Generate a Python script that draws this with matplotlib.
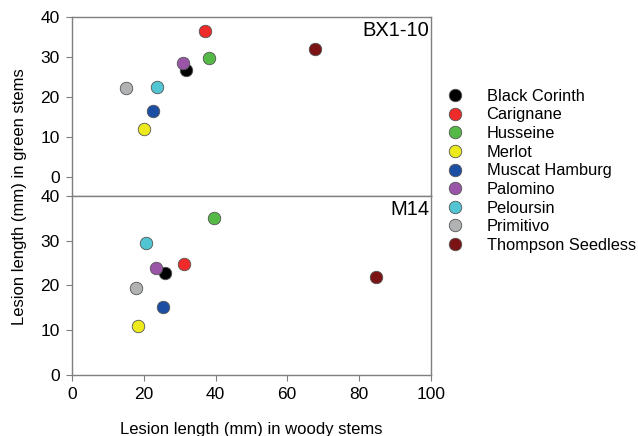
import matplotlib.pyplot as plt

plt.rcParams['font.family'] = ['Liberation Sans', 'DejaVu Sans']

cultivars = ['Black Corinth', 'Carignane', 'Husseine', 'Merlot', 'Muscat Hamburg',
             'Palomino', 'Peloursin', 'Primitivo', 'Thompson Seedless']
colors = ['#000000', '#ee2a2a', '#55b947', '#ecea1c', '#1c4fa3',
          '#9a55a8', '#52c5d3', '#b0b2b3', '#7b1315']

# BX1-10
bx_woody = [31.7, 37.1, 38.3, 20.0, 22.7, 31.0, 23.6, 15.0, 67.8]
bx_green = [26.6, 36.3, 29.6, 12.0, 16.4, 28.5, 22.4, 22.1, 31.8]
# M14
m14_woody = [26.0, 31.1, 39.5, 18.3, 25.3, 23.4, 20.7, 17.8, 84.7]
m14_green = [22.7, 24.7, 35.1, 10.9, 15.3, 23.9, 29.4, 19.4, 22.0]

fig = plt.figure(figsize=(6.38, 4.36), dpi=100)
ax1 = fig.add_axes([0.113, 0.5505, 0.562, 0.4115])
ax2 = fig.add_axes([0.113, 0.140, 0.562, 0.4105])

grey = '#7f7f7f'
for ax, xs, ys, label in [(ax1, bx_woody, bx_green, 'BX1-10'),
                          (ax2, m14_woody, m14_green, 'M14')]:
    for i in range(len(cultivars)):
        ax.plot(xs[i], ys[i], 'o', color=colors[i], markersize=9,
                markeredgecolor='#555555', markeredgewidth=0.6, label=cultivars[i])
    ax.set_xlim(0, 100)
    ax.set_yticks([0, 10, 20, 30, 40])
    for s in ax.spines.values():
        s.set_color(grey)
        s.set_linewidth(1.0)
    ax.tick_params(direction='out', color=grey, labelsize=12.5, length=4, pad=5)
    ax.text(0.997, 0.975, label, transform=ax.transAxes, ha='right', va='top', fontsize=14.5)

ax1.set_ylim(-4.7, 40)
ax1.set_xticks([])
ax2.set_ylim(0, 40)
ax2.set_xticks([0, 20, 40, 60, 80, 100])
ax2.set_xlabel('Lesion length (mm) in woody stems', fontsize=12, labelpad=14)
fig.text(0.03, 0.548, 'Lesion length (mm) in green stems', rotation=90,
         ha='center', va='center', fontsize=12)

handles, labels = ax1.get_legend_handles_labels()
fig.legend(handles, labels, loc='upper left', bbox_to_anchor=(0.674, 0.83),
           frameon=False, fontsize=11.8, handletextpad=1.35, labelspacing=0.22,
           handlelength=1.2)

fig.savefig('out.png', dpi=100)
